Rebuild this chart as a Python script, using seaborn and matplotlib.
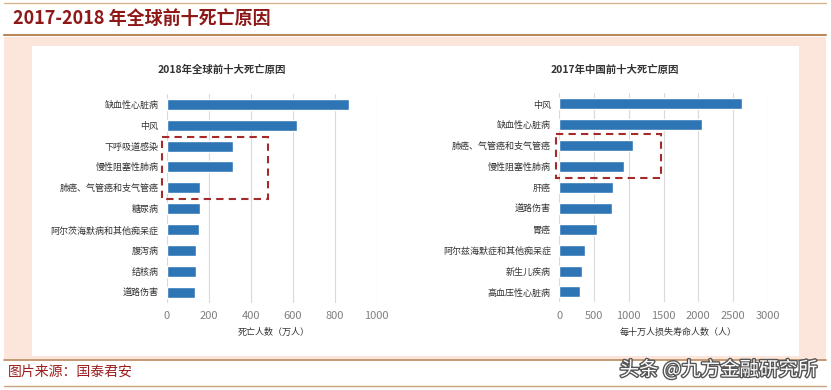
import numpy as np
import pandas as pd
import seaborn as sns
import matplotlib.pyplot as plt
from matplotlib.patches import Rectangle
from matplotlib.lines import Line2D
import matplotlib.patheffects as pe

sns.set_theme(style='white')
plt.rcParams['font.family'] = ['Noto Sans CJK SC', 'DejaVu Sans']

# 2018 global top-10 causes of death (10k people)
world_causes = ['缺血性心脏病', '中风', '下呼吸道感染', '慢性阻塞性肺病', '肺癌、气管癌和支气管癌',
                '糖尿病', '阿尔茨海默病和其他痴呆症', '腹泻病', '结核病', '道路伤害']
world_deaths = [866, 619, 317, 315, 158, 157, 156, 138, 138, 137]

# 2017 China top-10 causes (years of life lost per 100k)
china_causes = ['中风', '缺血性心脏病', '肺癌、气管癌和支气管癌', '慢性阻塞性肺病', '肝癌',
                '道路伤害', '胃癌', '阿尔兹海默症和其他痴呆症', '新生儿疾病', '高血压性心脏病']
china_yll = [2626, 2050, 1057, 936, 778, 754, 543, 375, 327, 298]

bar_color = '#2e75b6'
box_color = '#a52a2a'
W, H = 831, 390

fig = plt.figure(figsize=(W / 100, H / 100), dpi=100)
fig.patch.set_facecolor('white')

def fx(px):
    return px / W

def fy(py):
    return 1 - py / H

# frame decoration
fig.patches.append(Rectangle((fx(4), fy(359)), fx(822), (359 - 37) / H, transform=fig.transFigure,
                             facecolor='#fce5da', edgecolor='none', zorder=-2))
fig.patches.append(Rectangle((fx(32), fy(356)), fx(767), (356 - 46) / H, transform=fig.transFigure,
                             facecolor='white', edgecolor='none', zorder=-1))
for y, c, lw in [(3, '#d9b48f', 1.0), (35, '#b9875a', 1.5), (360, '#b9875a', 1.2), (386, '#c9a27e', 1.0)]:
    fig.lines.append(Line2D([fx(4), fx(826)], [fy(y), fy(y)], transform=fig.transFigure,
                            color=c, lw=lw))

fig.text(fx(13), fy(18), '2017-2018 年全球前十死亡原因', fontsize=13, fontweight='bold',
         color='#8e1818', va='center', ha='left')
fig.text(fx(8), fy(372), '图片来源：国泰君安', fontsize=10, color='#9c1c1c', va='center', ha='left')
fig.text(fx(818), fy(370), '头条 @九方金融研究所', fontsize=14, color='white', va='center', ha='right',
         path_effects=[pe.withStroke(linewidth=2, foreground='#555555')])

def panel(rect, cats, vals, xmax, step, title, title_x, xlabel, label_x, box):
    ax = fig.add_axes(rect)
    ax.patch.set_alpha(0)
    df = pd.DataFrame({'cause': cats, 'value': vals})
    sns.barplot(data=df, x='value', y='cause', ax=ax, color=bar_color, width=0.53,
                orient='h', saturation=1)
    ax.set_xlim(0, xmax)
    ax.set_xticks(np.arange(0, xmax + 1, step))
    ax.set_ylim(len(cats) - 0.5, -0.5)
    ax.grid(axis='x', color='#d9d9d9', lw=0.8)
    ax.set_axisbelow(True)
    for s in ax.spines.values():
        s.set_visible(False)
    ax.tick_params(axis='x', labelsize=8, colors='#808080', length=0, pad=6)
    ax.tick_params(axis='y', labelsize=6.5, colors='#333333', length=0, pad=6)
    ax.set_ylabel('')
    ax.set_xlabel(xlabel, fontsize=6.5, color='#333333')
    ax.xaxis.set_label_coords(label_x, -0.12)
    fig.text(fx(title_x), fy(70), title, fontsize=7.5, fontweight='bold', color='#333333',
             ha='center', va='center')
    x0, x1, r0, r1 = box
    ax.add_patch(Rectangle((x0, r0), x1 - x0, r1 - r0, fill=False, edgecolor=box_color,
                           lw=1.5, ls=(0, (3.5, 2.5)), clip_on=False, zorder=5))
    return ax

panel([fx(166.7), fy(302.8), 210 / W, 209 / H], world_causes, world_deaths, 1000, 200,
      '2018年全球前十大死亡原因', 222, '死亡人数（万人）', 0.511, (-24, 484, 1.58, 4.53))
panel([fx(559.3), fy(302.4), 208.4 / W, 209 / H], china_causes, china_yll, 3000, 500,
      '2017年中国前十大死亡原因', 615, '每十万人损失寿命人数（人）', 0.569, (-52, 1460, 1.45, 3.53))

fig.savefig('out.png', dpi=100)
